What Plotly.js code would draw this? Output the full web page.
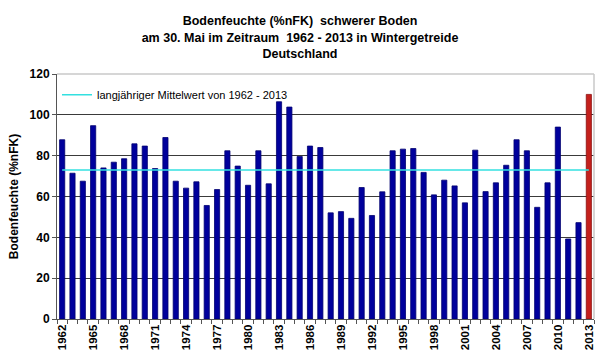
<!DOCTYPE html>
<html><head><meta charset="utf-8">
<script src="https://cdn.plot.ly/plotly-3.0.1.min.js"></script>
<style>html,body{margin:0;padding:0;background:#fff}#c{width:600px;height:363px}</style>
</head><body><div id="c"></div>
<script>
const years = [];
for (let y = 1962; y <= 2013; y++) years.push(y);
const values = [87.8,71.4,67.5,94.7,74.0,76.8,78.5,85.8,84.7,73.7,
  88.9,67.5,64.1,67.2,55.6,63.4,82.4,74.9,65.5,82.4,
  66.2,106.4,103.8,79.6,84.7,84.0,52.0,52.6,49.3,64.4,
  50.7,62.3,82.4,83.2,83.5,71.8,60.8,68.0,65.2,56.9,
  82.7,62.4,66.7,75.3,87.8,82.4,54.7,66.7,94.0,39.2,
  47.2,110.0];
const meanValue = 73.0;
const meanLabel = 'langjähriger Mittelwert von 1962 - 2013';
const tickYears = [];
for (let y = 1962; y <= 2013; y += 3) tickYears.push(y);

const barColors = years.map(y => y === 2013 ? '#C4201C' : '#00009C');
const barLines = years.map(y => y === 2013 ? '#8A1010' : '#000070');
const F = 'Liberation Sans, Arial, sans-serif';

const traces = [
  {type:'bar', x: years, y: values, width: 0.5, showlegend:false,
   marker:{color: barColors, line:{color: barLines, width:0.8}}, hoverinfo:'x+y'},
  {type:'scatter', mode:'lines', x:[years[0], years[years.length-1]], y:[meanValue, meanValue],
   name: meanLabel, line:{color:'#33E0E0', width:1.5}}
];
const layout = {
  width:600, height:363,
  margin:{l:57, r:6, t:74, b:44},
  paper_bgcolor:'#fff', plot_bgcolor:'#fff',
  font:{family:F, color:'#000'},
  title:{text:'Bodenfeuchte (%nFK)  schwerer Boden<br>am 30. Mai im Zeitraum  1962 - 2013 in Wintergetreide<br>Deutschland',
    font:{family:F, size:12.5, weight:'bold', color:'#000'}, x:0.5, xanchor:'center', yref:'container', y:0.93, yanchor:'top'},
  xaxis:{range:[1961.5, 2013.5], tickmode:'array', tickvals: tickYears, ticktext: tickYears.map(String),
    tickangle:-90, ticks:'', showgrid:false, zeroline:false,
    showline:true, linecolor:'#555', linewidth:1,
    tickfont:{family:F, size:11.5, weight:'bold'},
    minor:{ticks:'outside', tick0:1961.5, dtick:1, ticklen:4, tickcolor:'#555', showgrid:false}},
  yaxis:{range:[0,120], dtick:20, ticks:'outside', ticklen:4, tickcolor:'#555',
    showgrid:true, gridcolor:'#3a3a3a', gridwidth:1, zeroline:false,
    showline:true, linecolor:'#555', linewidth:1,
    tickfont:{family:F, size:12, weight:'bold'},
    title:{text:'Bodenfeuchte (%nFK)', font:{family:F, size:12, weight:'bold'}, standoff:8}},
  legend:{x:0.0, y:0.975, xanchor:'left', yanchor:'top', bgcolor:'rgba(0,0,0,0)',
    font:{family:F, size:11, color:'#000'}},
  shapes:[
    {type:'line', xref:'paper', yref:'paper', x0:0, x1:1, y0:1, y1:1, line:{color:'#c8c8c8', width:1.5}},
    {type:'line', xref:'paper', yref:'paper', x0:1, x1:1, y0:0, y1:1, line:{color:'#c8c8c8', width:1.5}}
  ]
};
Plotly.newPlot('c', traces, layout, {displayModeBar:false, staticPlot:true});
</script></body></html>
